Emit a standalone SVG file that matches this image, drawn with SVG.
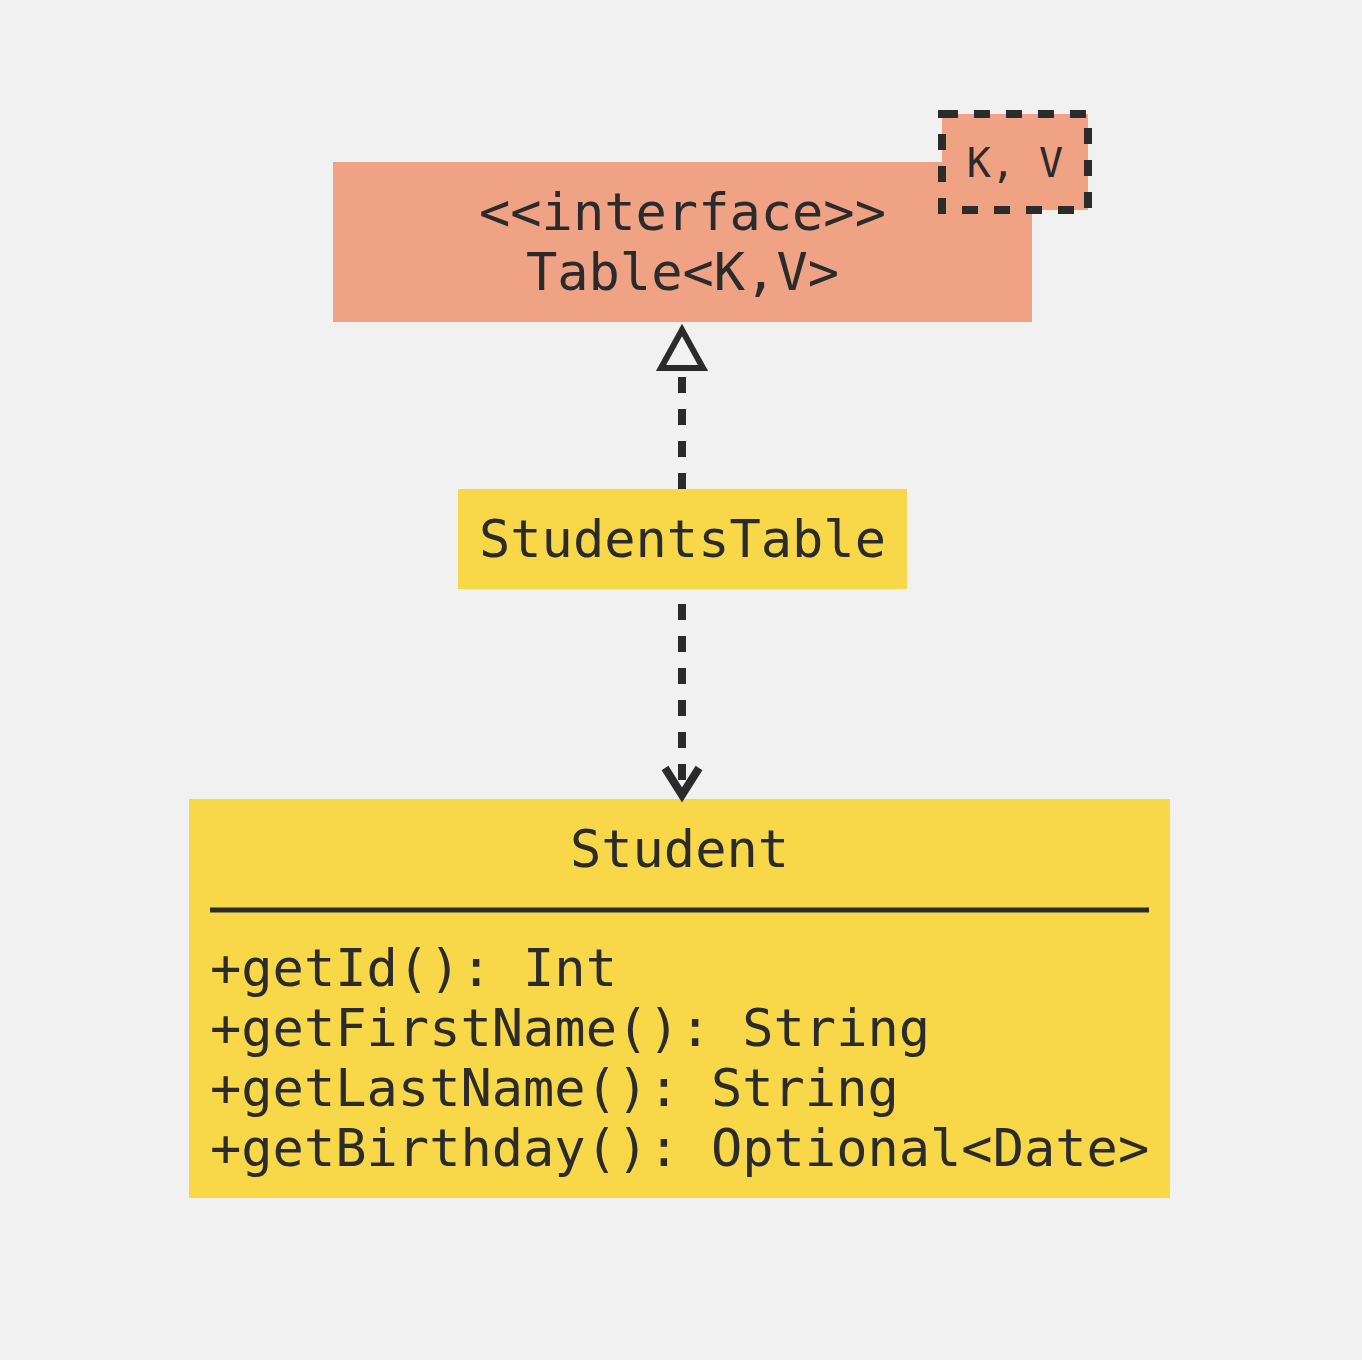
<svg xmlns="http://www.w3.org/2000/svg" width="1362" height="1360" viewBox="0 0 1362 1360">
<style>
.t{font-family:"DejaVu Sans Mono",monospace;fill:#2b2b2b;font-size:52px}
.c{text-anchor:middle}
.dash{stroke:#2b2b2b;stroke-width:8;stroke-dasharray:16 16;fill:none}
</style>
<rect width="1362" height="1360" fill="#f1f1f1"/>
<g id="table">
<rect x="333" y="162" width="699" height="160" fill="#efa384"/>
<text class="t c" x="682.5" y="230">&lt;&lt;interface&gt;&gt;</text>
<text class="t c" x="682.5" y="290">Table&lt;K,V&gt;</text>
</g>
<g id="table-params">
<rect x="942" y="114" width="146" height="96" fill="#efa384" stroke="#2b2b2b" stroke-width="8" stroke-dasharray="16 16"/>
<text class="t c" x="1015" y="177" style="font-size:40px">K, V</text>
</g>
<g id="studentstable">
<rect x="458" y="489" width="449" height="100" fill="#f8d848"/>
<text class="t c" x="682.5" y="557">StudentsTable</text>
</g>
<g id="student">
<rect x="189" y="799" width="981" height="399" fill="#f8d848"/>
<text class="t c" x="679.5" y="867">Student</text>
<line x1="210" y1="910" x2="1149" y2="910" stroke="#2b2b2b" stroke-width="5"/>
<text class="t" x="210" y="986">+getId(): Int</text>
<text class="t" x="210" y="1046">+getFirstName(): String</text>
<text class="t" x="210" y="1106">+getLastName(): String</text>
<text class="t" x="210" y="1166">+getBirthday(): Optional&lt;Date&gt;</text>
</g>
<g id="connectors">
<line class="dash" x1="682" y1="489" x2="682" y2="377" stroke-dashoffset="0"/>
<polygon points="682,330 661,368 703,368" fill="none" stroke="#2b2b2b" stroke-width="6" stroke-linejoin="miter"/>
<line class="dash" x1="682" y1="604" x2="682" y2="792"/>
<polyline points="665,768 682,795 699,768" fill="none" stroke="#2b2b2b" stroke-width="8" stroke-linejoin="miter"/>
</g>
</svg>
